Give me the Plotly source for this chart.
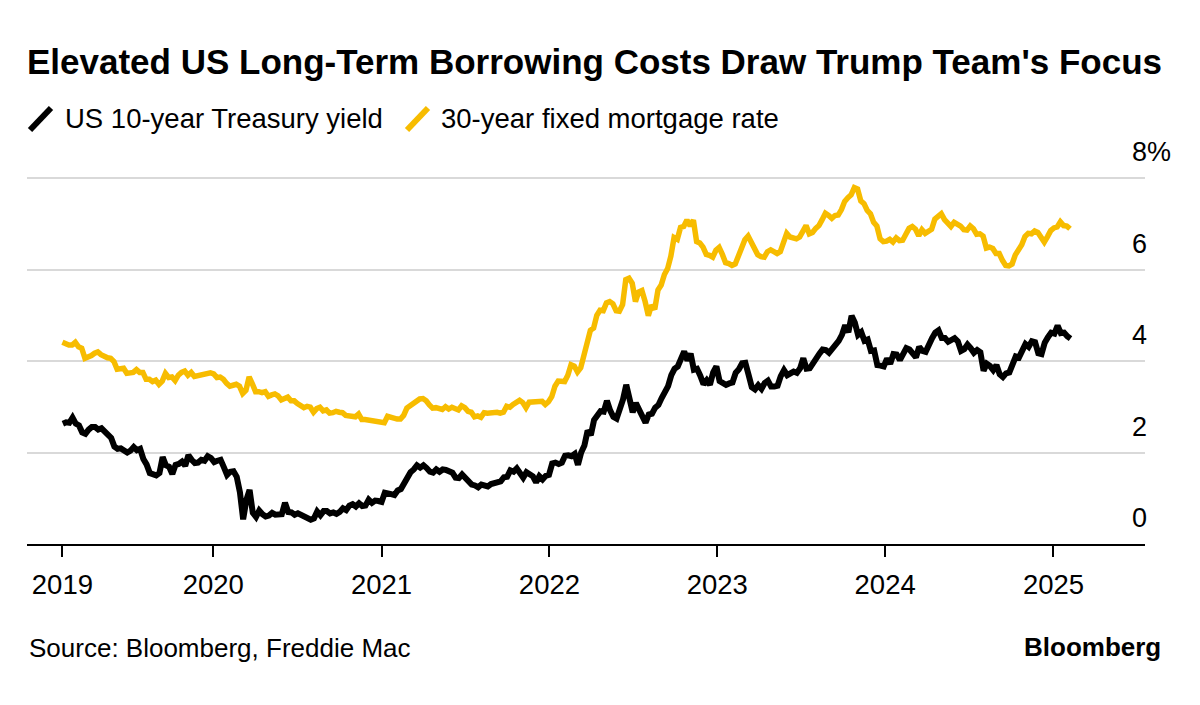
import pandas as pd
import plotly.graph_objects as go

# ---------------- DATA ----------------
# US 10-year Treasury yield, weekly (Friday) readings, %
tsy_2019 = [2.63, 2.66, 2.65, 2.76, 2.63, 2.59, 2.44, 2.41, 2.50, 2.56, 2.56, 2.50,
            2.53, 2.46, 2.39, 2.32, 2.13, 2.08, 2.09, 2.06, 2.00, 2.04, 2.12, 2.05,
            2.08, 1.86, 1.74, 1.55, 1.52, 1.50, 1.55, 1.90, 1.72, 1.69, 1.53, 1.73,
            1.75, 1.80, 1.71, 1.94, 1.84, 1.77, 1.78, 1.84, 1.82, 1.92, 1.88]
tsy_2020 = [1.79, 1.82, 1.84, 1.68, 1.51, 1.58, 1.59, 1.47, 1.13, 0.54, 0.96, 1.18,
            0.68, 0.59, 0.73, 0.65, 0.60, 0.62, 0.68, 0.64, 0.66, 0.65, 0.90, 0.70,
            0.69, 0.64, 0.67, 0.64, 0.62, 0.59, 0.53, 0.56, 0.71, 0.63, 0.72, 0.72,
            0.67, 0.69, 0.66, 0.70, 0.78, 0.74, 0.84, 0.87, 0.82, 0.89, 0.83, 0.84,
            0.97, 0.90, 0.95, 0.94]
tsy_2021 = [0.92, 1.12, 1.09, 1.09, 1.07, 1.17, 1.20, 1.34, 1.42, 1.57, 1.63, 1.72,
            1.67, 1.72, 1.66, 1.58, 1.56, 1.63, 1.58, 1.63, 1.62, 1.59, 1.56, 1.45,
            1.44, 1.52, 1.43, 1.36, 1.30, 1.28, 1.24, 1.30, 1.28, 1.26, 1.31, 1.32,
            1.34, 1.37, 1.46, 1.47, 1.61, 1.58, 1.65, 1.56, 1.45, 1.57, 1.54, 1.48,
            1.35, 1.48, 1.41, 1.49, 1.51]
tsy_2022 = [1.76, 1.78, 1.75, 1.78, 1.93, 1.94, 1.92, 1.97, 1.73, 2.00, 2.15, 2.48,
            2.38, 2.71, 2.83, 2.90, 2.89, 3.13, 2.92, 2.78, 2.74, 2.94, 3.16, 3.48,
            3.13, 2.88, 3.08, 2.93, 2.75, 2.65, 2.83, 2.85, 2.98, 3.04, 3.19, 3.32,
            3.45, 3.69, 3.83, 3.88, 4.02, 4.21, 4.01, 4.16, 3.81, 3.83, 3.68, 3.49,
            3.58, 3.48, 3.75, 3.88]
tsy_2023 = [3.56, 3.51, 3.48, 3.51, 3.53, 3.74, 3.82, 3.95, 3.96, 3.70, 3.43, 3.38,
            3.47, 3.39, 3.52, 3.57, 3.44, 3.44, 3.46, 3.67, 3.80, 3.69, 3.74, 3.77,
            3.74, 3.84, 4.06, 3.83, 3.84, 3.96, 4.04, 4.16, 4.25, 4.24, 4.18, 4.26,
            4.33, 4.44, 4.57, 4.78, 4.63, 4.99, 4.84, 4.57, 4.63, 4.44, 4.47, 4.22,
            4.23, 3.91, 3.90, 3.88]
tsy_2024 = [4.05, 3.94, 4.15, 4.14, 4.02, 4.18, 4.28, 4.25, 4.18, 4.08, 4.31, 4.22,
            4.20, 4.38, 4.50, 4.62, 4.67, 4.50, 4.50, 4.42, 4.46, 4.50, 4.43, 4.22,
            4.26, 4.36, 4.28, 4.18, 4.24, 4.19, 3.79, 3.94, 3.89, 3.80, 3.91, 3.71,
            3.65, 3.73, 3.75, 3.98, 4.10, 4.08, 4.24, 4.37, 4.31, 4.43, 4.41, 4.17,
            4.15, 4.40, 4.52, 4.62]
tsy_2025 = [4.60, 4.77, 4.61, 4.62, 4.54, 4.49]
tsy_starts = ["2019-02-08", "2020-01-03", "2021-01-01", "2022-01-07",
              "2023-01-06", "2024-01-05", "2025-01-03"]

# Freddie Mac 30-year fixed mortgage rate, weekly (Thursday) readings, %
mtg_2019 = [4.41, 4.37, 4.35, 4.35, 4.41, 4.31, 4.28, 4.06, 4.08, 4.12, 4.17, 4.20,
            4.14, 4.10, 4.07, 4.06, 3.99, 3.82, 3.82, 3.84, 3.73, 3.75, 3.75, 3.81,
            3.75, 3.75, 3.60, 3.60, 3.55, 3.58, 3.49, 3.56, 3.73, 3.64, 3.65, 3.57,
            3.69, 3.75, 3.78, 3.69, 3.75, 3.66, 3.68, 3.68, 3.73, 3.73, 3.74]
mtg_2020 = [3.72, 3.64, 3.65, 3.60, 3.51, 3.45, 3.47, 3.49, 3.45, 3.29, 3.36, 3.65,
            3.50, 3.33, 3.33, 3.31, 3.33, 3.23, 3.26, 3.28, 3.24, 3.15, 3.18, 3.21,
            3.13, 3.13, 3.07, 3.03, 2.98, 3.01, 2.99, 2.88, 2.96, 2.99, 2.91, 2.93,
            2.86, 2.87, 2.90, 2.88, 2.87, 2.81, 2.80, 2.81, 2.78, 2.84, 2.72, 2.72,
            2.71, 2.71, 2.67, 2.66, 2.67]
mtg_2021 = [2.65, 2.79, 2.77, 2.73, 2.73, 2.73, 2.81, 2.97, 3.02, 3.05, 3.09, 3.17,
            3.18, 3.13, 3.04, 2.97, 2.98, 2.96, 2.94, 3.00, 2.95, 2.99, 2.96, 2.93,
            3.02, 2.98, 2.90, 2.88, 2.78, 2.80, 2.77, 2.87, 2.86, 2.87, 2.87, 2.88,
            2.86, 2.88, 3.01, 2.99, 3.05, 3.09, 3.14, 3.09, 2.98, 3.10, 3.10, 3.11,
            3.10, 3.12, 3.05, 3.11]
mtg_2022 = [3.22, 3.45, 3.56, 3.55, 3.55, 3.69, 3.92, 3.89, 3.76, 3.85, 4.16, 4.42,
            4.67, 4.72, 5.00, 5.11, 5.10, 5.27, 5.30, 5.25, 5.10, 5.09, 5.23, 5.78,
            5.81, 5.70, 5.30, 5.51, 5.54, 5.30, 4.99, 5.22, 5.13, 5.55, 5.66, 5.89,
            6.02, 6.29, 6.70, 6.66, 6.92, 6.94, 7.08, 6.95, 7.08, 6.61, 6.58, 6.49,
            6.33, 6.31, 6.27, 6.42]
mtg_2023 = [6.48, 6.33, 6.15, 6.13, 6.09, 6.12, 6.32, 6.50, 6.65, 6.73, 6.60, 6.42,
            6.32, 6.28, 6.27, 6.39, 6.43, 6.39, 6.35, 6.39, 6.57, 6.79, 6.71, 6.69,
            6.67, 6.71, 6.81, 6.96, 6.78, 6.81, 6.90, 6.96, 7.09, 7.23, 7.18, 7.12,
            7.18, 7.19, 7.31, 7.49, 7.57, 7.63, 7.79, 7.76, 7.50, 7.44, 7.29, 7.22,
            7.03, 6.95, 6.67, 6.61]
mtg_2024 = [6.62, 6.66, 6.60, 6.69, 6.63, 6.64, 6.77, 6.90, 6.94, 6.88, 6.74, 6.87,
            6.79, 6.82, 6.88, 7.10, 7.17, 7.22, 7.09, 7.02, 6.94, 7.03, 6.99, 6.95,
            6.87, 6.86, 6.95, 6.89, 6.77, 6.78, 6.73, 6.47, 6.49, 6.46, 6.35, 6.35,
            6.20, 6.09, 6.08, 6.12, 6.32, 6.44, 6.54, 6.72, 6.79, 6.78, 6.84, 6.81,
            6.69, 6.60, 6.72, 6.85]
mtg_2025 = [6.91, 6.93, 7.04, 6.96, 6.95, 6.89]
mtg_starts = ["2019-02-07", "2020-01-02", "2021-01-07", "2022-01-06",
              "2023-01-05", "2024-01-04", "2025-01-02"]

tick_dates = ["2019-02-07", "2020-01-01", "2021-01-01", "2022-01-01",
              "2023-01-01", "2024-01-01", "2025-01-01"]
tick_labels = ["2019", "2020", "2021", "2022", "2023", "2024", "2025"]
y_ticks = [0, 2, 4, 6, 8]
y_tick_labels = ["0", "2", "4", "6", "8%"]

series_names = ["US 10-year Treasury yield", "30-year fixed mortgage rate"]
title_text = "Elevated US Long-Term Borrowing Costs Draw Trump Team's Focus"
source_text = "Source: Bloomberg, Freddie Mac"

# ---------------- BUILD ----------------
def weekly(starts, chunks):
    dates, vals = [], []
    for s, c in zip(starts, chunks):
        dates.extend(pd.date_range(s, periods=len(c), freq="7D"))
        vals.extend(c)
    return dates, vals

tsy_x, tsy_y = weekly(tsy_starts, [tsy_2019, tsy_2020, tsy_2021, tsy_2022,
                                   tsy_2023, tsy_2024, tsy_2025])
mtg_x, mtg_y = weekly(mtg_starts, [mtg_2019, mtg_2020, mtg_2021, mtg_2022,
                                   mtg_2023, mtg_2024, mtg_2025])

BLACK = "#000000"
YELLOW = "#F7BC00"
FONT = "Liberation Sans"

W, H = 1200, 705
L, R, T, B = 27, 55, 173, 161
pw, ph = W - L - R, H - T - B
Y_TOP = 8 * ph / (H - B - 178)   # keeps the 8% gridline at y=178 px

def px(x):
    return (x - L) / pw

def py(y):
    return (H - B - y) / ph

fig = go.Figure()
fig.add_trace(go.Scatter(x=mtg_x, y=mtg_y, mode="lines", name=series_names[1],
                         line=dict(color=YELLOW, width=5.5), showlegend=False))
fig.add_trace(go.Scatter(x=tsy_x, y=tsy_y, mode="lines", name=series_names[0],
                         line=dict(color=BLACK, width=6), showlegend=False))

annotations = []
for v, t in zip(y_ticks, y_tick_labels):
    annotations.append(dict(x=px(1130), xref="paper", y=v, yref="y", text=t,
                            showarrow=False, xanchor="left", yanchor="middle",
                            yshift=26, font=dict(family=FONT, size=27, color=BLACK)))

# manual legend (diagonal line glyphs)
shapes = [
    dict(type="line", xref="paper", yref="paper", x0=px(30), y0=py(130), x1=px(51), y1=py(108),
         line=dict(color=BLACK, width=6)),
    dict(type="line", xref="paper", yref="paper", x0=px(407), y0=py(130), x1=px(428), y1=py(108),
         line=dict(color=YELLOW, width=6)),
]
annotations.append(dict(x=px(63), xref="paper", y=py(119), yref="paper", text=series_names[0],
                        showarrow=False, xanchor="left", yanchor="middle",
                        font=dict(family=FONT, size=27.5, color=BLACK)))
annotations.append(dict(x=px(439), xref="paper", y=py(119), yref="paper", text=series_names[1],
                        showarrow=False, xanchor="left", yanchor="middle",
                        font=dict(family=FONT, size=27.5, color=BLACK)))
# source & logo
annotations.append(dict(x=px(27), xref="paper", y=py(648), yref="paper", text=source_text,
                        showarrow=False, xanchor="left", yanchor="middle",
                        font=dict(family=FONT, size=26, color=BLACK)))
annotations.append(dict(x=px(1163), xref="paper", y=py(647), yref="paper", text="<b>Bloomberg</b>",
                        showarrow=False, xanchor="right", yanchor="middle",
                        font=dict(family=FONT, size=26, color=BLACK)))

fig.update_layout(
    width=W, height=H,
    margin=dict(l=L, r=R, t=T, b=B),
    paper_bgcolor="white", plot_bgcolor="white",
    title=dict(text="<b>" + title_text + "</b>", x=27 / W, xanchor="left",
               y=1 - 62 / H, yanchor="middle", yref="container",
               font=dict(family=FONT, size=35, color=BLACK)),
    xaxis=dict(type="date", range=["2018-11-22", "2025-07-19"],
               tickvals=tick_dates, ticktext=tick_labels,
               ticks="outside", ticklen=11, tickwidth=2, tickcolor=BLACK,
               showline=True, linecolor=BLACK, linewidth=2,
               showgrid=False, zeroline=False, ticklabelstandoff=4,
               tickfont=dict(family=FONT, size=27.5, color=BLACK)),
    yaxis=dict(range=[0, Y_TOP], tickvals=y_ticks, showticklabels=False,
               showgrid=True, gridcolor="#D9D9D9", gridwidth=2,
               zeroline=False, showline=False, ticks=""),
    annotations=annotations, shapes=shapes,
    showlegend=False,
)

fig.write_html("out.html", config={"displayModeBar": False},
               post_script="document.body.style.margin='0';")
